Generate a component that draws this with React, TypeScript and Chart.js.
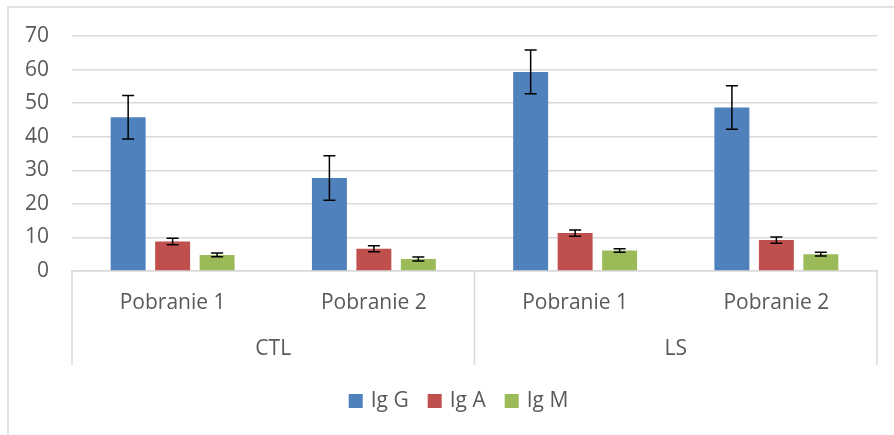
import React, { useEffect, useRef } from "react";
import { Chart, registerables } from "chart.js";

Chart.register(...registerables);

const categories = ["Pobranie 1", "Pobranie 2", "Pobranie 1", "Pobranie 2"];
const groups = ["CTL", "LS"];
const seriesNames = ["Ig G", "Ig A", "Ig M"];
const igG = [45.8, 27.7, 59.3, 48.7];
const igGErr = [6.5, 6.6, 6.5, 6.5];
const igA = [8.8, 6.6, 11.3, 9.2];
const igAErr = [0.95, 0.9, 0.95, 0.95];
const igM = [4.8, 3.6, 6.1, 5.0];
const igMErr = [0.55, 0.6, 0.5, 0.55];
const yTicks = [0, 10, 20, 30, 40, 50, 60, 70];

const colors = ["#4F81BD", "#C0504D", "#9BBB59"];
const FONT = "'Open Sans', sans-serif";
const FS = 21;
const TEXT = "#595959";
const GRID = "#d9d9d9";

export default function App() {
  const ref = useRef<HTMLCanvasElement | null>(null);

  useEffect(() => {
    if (!ref.current) return;
    const errs = [igGErr, igAErr, igMErr];

    const extras = {
      id: "extras",
      beforeDraw(chart: any) {
        const ctx = chart.ctx;
        ctx.save();
        ctx.strokeStyle = GRID;
        ctx.lineWidth = 1.5;
        ctx.beginPath();
        ctx.moveTo(8, 435);
        ctx.lineTo(8, 7);
        ctx.lineTo(894, 7);
        ctx.stroke();
        ctx.restore();
      },
      afterDatasetsDraw(chart: any) {
        const ctx = chart.ctx;
        const y = chart.scales.y;
        ctx.save();
        ctx.strokeStyle = "#000";
        ctx.lineWidth = 1.5;
        chart.data.datasets.forEach((ds: any, i: number) => {
          const meta = chart.getDatasetMeta(i);
          meta.data.forEach((bar: any, j: number) => {
            const v = ds.data[j];
            const e = errs[i][j];
            const yt = y.getPixelForValue(v + e);
            const yb = y.getPixelForValue(v - e);
            const x = bar.x;
            ctx.beginPath();
            ctx.moveTo(x, yt);
            ctx.lineTo(x, yb);
            ctx.moveTo(x - 6, yt);
            ctx.lineTo(x + 6, yt);
            ctx.moveTo(x - 6, yb);
            ctx.lineTo(x + 6, yb);
            ctx.stroke();
          });
        });
        ctx.restore();
      },
      afterDraw(chart: any) {
        const ctx = chart.ctx;
        const xs = chart.scales.x;
        const area = chart.chartArea;
        const top = area.bottom;
        const bottom = xs.bottom;
        const left = area.left;
        const right = area.right;
        const mid = (left + right) / 2;
        ctx.save();
        ctx.strokeStyle = GRID;
        ctx.lineWidth = 1.5;
        ctx.beginPath();
        [left, mid, right].forEach((x) => {
          ctx.moveTo(x, top);
          ctx.lineTo(x, bottom);
        });
        ctx.stroke();
        ctx.fillStyle = TEXT;
        ctx.font = `${FS}px ${FONT}`;
        ctx.textAlign = "center";
        ctx.textBaseline = "middle";
        groups.forEach((g, gi) => {
          const a = xs.getPixelForValue(gi * 2);
          const b = xs.getPixelForValue(gi * 2 + 1);
          ctx.fillText(g, (a + b) / 2, 349);
        });

        // legend
        const box = 14;
        const gapBox = 8;
        const gapItem = 19;
        const items = chart.data.datasets.map((ds: any) => ({
          label: ds.label as string,
          color: ds.backgroundColor as string,
          w: ctx.measureText(ds.label).width,
        }));
        const total =
          items.reduce((s: number, it: any) => s + box + gapBox + it.w, 0) +
          gapItem * (items.length - 1);
        let x = 458.5 - total / 2;
        const cy = 401;
        ctx.textAlign = "left";
        items.forEach((it: any) => {
          ctx.fillStyle = it.color;
          ctx.fillRect(x, cy - box / 2, box, box);
          x += box + gapBox;
          ctx.fillStyle = TEXT;
          ctx.fillText(it.label, x, cy);
          x += it.w + gapItem;
        });
        ctx.restore();
      },
    };

    const chart = new Chart(ref.current, {
      type: "bar",
      data: {
        labels: categories,
        datasets: [igG, igA, igM].map((d, i) => ({
          label: seriesNames[i],
          data: d,
          backgroundColor: colors[i],
          categoryPercentage: 0.663,
          barPercentage: 0.786,
        })),
      },
      options: {
        animation: false,
        responsive: false,
        devicePixelRatio: 1,
        layout: { padding: { top: 36, bottom: 70, left: 0, right: 17 } },
        plugins: {
          tooltip: { enabled: false },
          legend: { display: false },
        },
        scales: {
          x: {
            grid: { display: false, drawTicks: false },
            border: { display: true, color: GRID, width: 1.5 },
            ticks: {
              color: TEXT,
              font: { family: FONT, size: FS },
              padding: 19,
              maxRotation: 0,
              autoSkip: false,
            },
            afterFit(scale: any) {
              scale.height = 94;
            },
          },
          y: {
            min: 0,
            max: 70,
            afterBuildTicks(scale: any) {
              scale.ticks = yTicks.map((v) => ({ value: v }));
            },
            grid: { color: GRID, lineWidth: 1.5, drawTicks: false },
            border: { display: false },
            ticks: {
              color: TEXT,
              font: { family: FONT, size: FS },
              padding: 23,
            },
            afterFit(scale: any) {
              scale.width = 72;
            },
          },
        },
      },
      plugins: [extras],
    });
    return () => chart.destroy();
  }, []);

  return (
    <div style={{ position: "fixed", left: 0, top: 0, width: 894, height: 435 }}>
      <canvas ref={ref} width={894} height={435} style={{ width: 894, height: 435 }} />
    </div>
  );
}
